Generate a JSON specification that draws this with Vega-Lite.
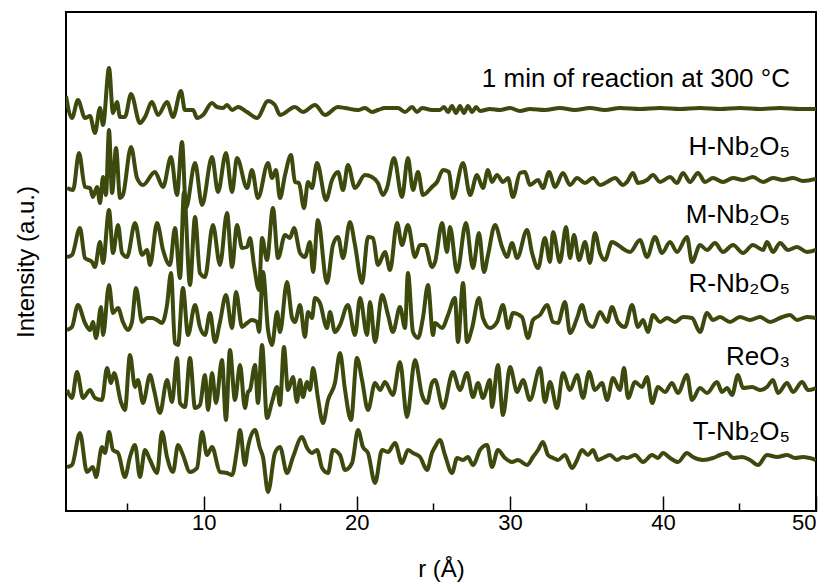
{
"$schema": "https://vega.github.io/schema/vega-lite/v6.json",
"width": 750, "height": 499,
"autosize": {"type": "none"},
"padding": {"left": 66, "top": 12, "right": 16, "bottom": 73},
"config": {"view": {"stroke": "#000", "strokeWidth": 2}, "font": "Liberation Sans"},
"datasets": {
"curves": [
{"s":"A","r":1.00,"v":415},{"s":"A","r":1.39,"v":393},{"s":"A","r":1.78,"v":411},{"s":"A","r":2.24,"v":393},{"s":"A","r":2.57,"v":395},{"s":"A","r":2.89,"v":378},{"s":"A","r":3.22,"v":403},{"s":"A","r":3.42,"v":386},{"s":"A","r":3.81,"v":443},{"s":"A","r":4.07,"v":398},{"s":"A","r":4.33,"v":409},{"s":"A","r":4.53,"v":394},{"s":"A","r":4.85,"v":394},{"s":"A","r":5.25,"v":417},{"s":"A","r":5.83,"v":388},{"s":"A","r":6.16,"v":394},{"s":"A","r":6.62,"v":409},{"s":"A","r":7.01,"v":396},{"s":"A","r":7.60,"v":409},{"s":"A","r":7.99,"v":394},{"s":"A","r":8.51,"v":420},{"s":"A","r":8.77,"v":401},{"s":"A","r":9.30,"v":401},{"s":"A","r":9.56,"v":393},{"s":"A","r":9.95,"v":396},{"s":"A","r":10.54,"v":408},{"s":"A","r":10.87,"v":404},{"s":"A","r":11.26,"v":403},{"s":"A","r":11.52,"v":406},{"s":"A","r":11.85,"v":401},{"s":"A","r":12.24,"v":404},{"s":"A","r":12.83,"v":399},{"s":"A","r":13.48,"v":393},{"s":"A","r":14.20,"v":410},{"s":"A","r":14.65,"v":406},{"s":"A","r":14.98,"v":396},{"s":"A","r":15.96,"v":404},{"s":"A","r":16.48,"v":399},{"s":"A","r":17.27,"v":406},{"s":"A","r":17.92,"v":396},{"s":"A","r":18.77,"v":404},{"s":"A","r":19.23,"v":403},{"s":"A","r":20.08,"v":401},{"s":"A","r":20.53,"v":403},{"s":"A","r":20.99,"v":399},{"s":"A","r":21.38,"v":401},{"s":"A","r":21.84,"v":403},{"s":"A","r":22.69,"v":403},{"s":"A","r":23.15,"v":399},{"s":"A","r":23.61,"v":404},{"s":"A","r":23.93,"v":399},{"s":"A","r":24.26,"v":403},{"s":"A","r":24.91,"v":401},{"s":"A","r":25.43,"v":401},{"s":"A","r":25.70,"v":404},{"s":"A","r":25.96,"v":399},{"s":"A","r":26.22,"v":405},{"s":"A","r":26.48,"v":398},{"s":"A","r":26.74,"v":405},{"s":"A","r":27.00,"v":398},{"s":"A","r":27.26,"v":405},{"s":"A","r":27.53,"v":399},{"s":"A","r":27.79,"v":404},{"s":"A","r":28.05,"v":400},{"s":"A","r":28.70,"v":402},{"s":"A","r":29.35,"v":401},{"s":"A","r":30.01,"v":403},{"s":"A","r":30.66,"v":400},{"s":"A","r":31.31,"v":402},{"s":"A","r":32.29,"v":401},{"s":"A","r":33.27,"v":403},{"s":"A","r":34.25,"v":401},{"s":"A","r":35.23,"v":403},{"s":"A","r":36.21,"v":401},{"s":"A","r":37.19,"v":403},{"s":"A","r":38.50,"v":402},{"s":"A","r":39.81,"v":403},{"s":"A","r":41.11,"v":402},{"s":"A","r":42.42,"v":403},{"s":"A","r":43.73,"v":402},{"s":"A","r":45.03,"v":403},{"s":"A","r":46.34,"v":402},{"s":"A","r":47.65,"v":403},{"s":"A","r":48.95,"v":402},{"s":"A","r":50.00,"v":402},
{"s":"B","r":1.07,"v":323},{"s":"B","r":1.46,"v":321},{"s":"B","r":1.85,"v":358},{"s":"B","r":2.24,"v":324},{"s":"B","r":2.57,"v":323},{"s":"B","r":2.76,"v":314},{"s":"B","r":3.03,"v":324},{"s":"B","r":3.22,"v":308},{"s":"B","r":3.42,"v":334},{"s":"B","r":3.61,"v":316},{"s":"B","r":3.81,"v":381},{"s":"B","r":4.01,"v":318},{"s":"B","r":4.27,"v":363},{"s":"B","r":4.53,"v":313},{"s":"B","r":4.72,"v":316},{"s":"B","r":5.25,"v":364},{"s":"B","r":5.64,"v":333},{"s":"B","r":6.03,"v":326},{"s":"B","r":6.81,"v":339},{"s":"B","r":7.34,"v":324},{"s":"B","r":7.86,"v":354},{"s":"B","r":8.25,"v":316},{"s":"B","r":8.58,"v":369},{"s":"B","r":8.84,"v":303},{"s":"B","r":9.43,"v":348},{"s":"B","r":9.89,"v":306},{"s":"B","r":10.54,"v":354},{"s":"B","r":10.93,"v":319},{"s":"B","r":11.45,"v":358},{"s":"B","r":11.85,"v":319},{"s":"B","r":12.17,"v":353},{"s":"B","r":12.83,"v":323},{"s":"B","r":13.15,"v":341},{"s":"B","r":13.54,"v":313},{"s":"B","r":14.20,"v":348},{"s":"B","r":14.46,"v":333},{"s":"B","r":14.72,"v":341},{"s":"B","r":14.98,"v":313},{"s":"B","r":15.31,"v":336},{"s":"B","r":15.70,"v":356},{"s":"B","r":15.96,"v":329},{"s":"B","r":16.22,"v":328},{"s":"B","r":16.55,"v":303},{"s":"B","r":16.81,"v":329},{"s":"B","r":17.07,"v":323},{"s":"B","r":17.40,"v":348},{"s":"B","r":17.99,"v":311},{"s":"B","r":18.38,"v":331},{"s":"B","r":18.77,"v":339},{"s":"B","r":19.10,"v":321},{"s":"B","r":19.42,"v":346},{"s":"B","r":19.88,"v":323},{"s":"B","r":20.53,"v":336},{"s":"B","r":20.99,"v":334},{"s":"B","r":21.38,"v":328},{"s":"B","r":21.71,"v":316},{"s":"B","r":21.97,"v":323},{"s":"B","r":22.43,"v":353},{"s":"B","r":22.95,"v":314},{"s":"B","r":23.34,"v":353},{"s":"B","r":23.67,"v":321},{"s":"B","r":24.00,"v":339},{"s":"B","r":24.32,"v":316},{"s":"B","r":24.91,"v":324},{"s":"B","r":25.24,"v":329},{"s":"B","r":25.63,"v":341},{"s":"B","r":26.02,"v":339},{"s":"B","r":26.28,"v":313},{"s":"B","r":26.94,"v":348},{"s":"B","r":27.40,"v":316},{"s":"B","r":27.85,"v":336},{"s":"B","r":28.24,"v":323},{"s":"B","r":28.57,"v":341},{"s":"B","r":28.83,"v":329},{"s":"B","r":29.16,"v":336},{"s":"B","r":29.55,"v":329},{"s":"B","r":29.88,"v":333},{"s":"B","r":30.20,"v":314},{"s":"B","r":30.66,"v":338},{"s":"B","r":30.99,"v":339},{"s":"B","r":31.31,"v":326},{"s":"B","r":31.84,"v":331},{"s":"B","r":32.16,"v":323},{"s":"B","r":32.56,"v":339},{"s":"B","r":32.95,"v":324},{"s":"B","r":33.47,"v":338},{"s":"B","r":33.93,"v":326},{"s":"B","r":34.39,"v":333},{"s":"B","r":34.91,"v":328},{"s":"B","r":35.43,"v":333},{"s":"B","r":35.89,"v":326},{"s":"B","r":36.35,"v":329},{"s":"B","r":36.87,"v":333},{"s":"B","r":37.39,"v":326},{"s":"B","r":37.65,"v":329},{"s":"B","r":38.04,"v":338},{"s":"B","r":38.37,"v":328},{"s":"B","r":38.96,"v":331},{"s":"B","r":39.35,"v":336},{"s":"B","r":39.81,"v":329},{"s":"B","r":40.46,"v":334},{"s":"B","r":40.92,"v":328},{"s":"B","r":41.31,"v":338},{"s":"B","r":41.77,"v":329},{"s":"B","r":42.29,"v":338},{"s":"B","r":42.75,"v":329},{"s":"B","r":43.27,"v":333},{"s":"B","r":43.92,"v":329},{"s":"B","r":44.58,"v":333},{"s":"B","r":45.23,"v":331},{"s":"B","r":45.88,"v":334},{"s":"B","r":46.54,"v":329},{"s":"B","r":47.19,"v":333},{"s":"B","r":47.84,"v":331},{"s":"B","r":48.50,"v":333},{"s":"B","r":49.15,"v":330},{"s":"B","r":50.00,"v":332},
{"s":"C","r":1.07,"v":254},{"s":"C","r":1.39,"v":256},{"s":"C","r":1.91,"v":283},{"s":"C","r":2.24,"v":253},{"s":"C","r":2.70,"v":249},{"s":"C","r":2.89,"v":244},{"s":"C","r":3.22,"v":269},{"s":"C","r":3.42,"v":248},{"s":"C","r":3.81,"v":301},{"s":"C","r":4.07,"v":258},{"s":"C","r":4.40,"v":286},{"s":"C","r":4.66,"v":258},{"s":"C","r":4.99,"v":254},{"s":"C","r":5.51,"v":288},{"s":"C","r":5.97,"v":256},{"s":"C","r":6.29,"v":261},{"s":"C","r":6.49,"v":246},{"s":"C","r":6.95,"v":288},{"s":"C","r":7.34,"v":261},{"s":"C","r":7.79,"v":246},{"s":"C","r":8.12,"v":283},{"s":"C","r":8.45,"v":233},{"s":"C","r":8.71,"v":319},{"s":"C","r":9.10,"v":226},{"s":"C","r":9.43,"v":294},{"s":"C","r":9.75,"v":238},{"s":"C","r":10.08,"v":234},{"s":"C","r":10.60,"v":286},{"s":"C","r":11.06,"v":246},{"s":"C","r":11.52,"v":298},{"s":"C","r":11.85,"v":244},{"s":"C","r":12.17,"v":286},{"s":"C","r":12.50,"v":263},{"s":"C","r":12.83,"v":264},{"s":"C","r":13.02,"v":273},{"s":"C","r":13.28,"v":246},{"s":"C","r":13.61,"v":221},{"s":"C","r":13.81,"v":273},{"s":"C","r":14.13,"v":251},{"s":"C","r":14.52,"v":303},{"s":"C","r":14.85,"v":253},{"s":"C","r":15.31,"v":276},{"s":"C","r":15.63,"v":273},{"s":"C","r":15.90,"v":283},{"s":"C","r":16.29,"v":258},{"s":"C","r":16.61,"v":254},{"s":"C","r":16.94,"v":269},{"s":"C","r":17.14,"v":239},{"s":"C","r":17.46,"v":291},{"s":"C","r":18.05,"v":228},{"s":"C","r":18.44,"v":266},{"s":"C","r":18.77,"v":274},{"s":"C","r":19.10,"v":253},{"s":"C","r":19.55,"v":289},{"s":"C","r":19.88,"v":266},{"s":"C","r":20.34,"v":228},{"s":"C","r":20.73,"v":274},{"s":"C","r":21.06,"v":273},{"s":"C","r":21.38,"v":246},{"s":"C","r":21.84,"v":259},{"s":"C","r":22.17,"v":241},{"s":"C","r":22.63,"v":288},{"s":"C","r":22.95,"v":266},{"s":"C","r":23.34,"v":286},{"s":"C","r":23.80,"v":254},{"s":"C","r":24.13,"v":266},{"s":"C","r":24.45,"v":266},{"s":"C","r":24.91,"v":244},{"s":"C","r":25.11,"v":249},{"s":"C","r":25.57,"v":288},{"s":"C","r":25.89,"v":259},{"s":"C","r":26.09,"v":284},{"s":"C","r":26.55,"v":239},{"s":"C","r":27.13,"v":288},{"s":"C","r":27.59,"v":243},{"s":"C","r":27.98,"v":278},{"s":"C","r":28.31,"v":239},{"s":"C","r":28.57,"v":256},{"s":"C","r":29.03,"v":286},{"s":"C","r":29.49,"v":264},{"s":"C","r":29.81,"v":254},{"s":"C","r":30.14,"v":268},{"s":"C","r":30.47,"v":253},{"s":"C","r":31.12,"v":281},{"s":"C","r":31.45,"v":258},{"s":"C","r":31.84,"v":243},{"s":"C","r":32.29,"v":273},{"s":"C","r":32.62,"v":249},{"s":"C","r":32.82,"v":279},{"s":"C","r":33.27,"v":249},{"s":"C","r":33.67,"v":284},{"s":"C","r":33.93,"v":253},{"s":"C","r":34.19,"v":276},{"s":"C","r":34.52,"v":251},{"s":"C","r":34.91,"v":269},{"s":"C","r":35.23,"v":248},{"s":"C","r":35.56,"v":278},{"s":"C","r":35.89,"v":258},{"s":"C","r":36.21,"v":251},{"s":"C","r":36.67,"v":269},{"s":"C","r":37.06,"v":266},{"s":"C","r":37.52,"v":261},{"s":"C","r":37.85,"v":259},{"s":"C","r":38.50,"v":271},{"s":"C","r":38.96,"v":254},{"s":"C","r":39.48,"v":274},{"s":"C","r":39.94,"v":258},{"s":"C","r":40.46,"v":269},{"s":"C","r":40.92,"v":259},{"s":"C","r":41.57,"v":274},{"s":"C","r":41.90,"v":249},{"s":"C","r":42.42,"v":266},{"s":"C","r":42.88,"v":261},{"s":"C","r":43.40,"v":268},{"s":"C","r":43.92,"v":259},{"s":"C","r":44.58,"v":266},{"s":"C","r":45.23,"v":258},{"s":"C","r":45.88,"v":266},{"s":"C","r":46.54,"v":261},{"s":"C","r":46.80,"v":269},{"s":"C","r":47.19,"v":259},{"s":"C","r":47.65,"v":268},{"s":"C","r":48.17,"v":261},{"s":"C","r":48.76,"v":264},{"s":"C","r":49.41,"v":259},{"s":"C","r":50.00,"v":261},
{"s":"D","r":1.07,"v":181},{"s":"D","r":1.39,"v":184},{"s":"D","r":1.78,"v":206},{"s":"D","r":2.24,"v":188},{"s":"D","r":2.57,"v":181},{"s":"D","r":2.76,"v":189},{"s":"D","r":2.96,"v":173},{"s":"D","r":3.29,"v":204},{"s":"D","r":3.42,"v":176},{"s":"D","r":3.81,"v":226},{"s":"D","r":4.07,"v":198},{"s":"D","r":4.40,"v":203},{"s":"D","r":4.72,"v":189},{"s":"D","r":5.05,"v":181},{"s":"D","r":5.31,"v":189},{"s":"D","r":5.57,"v":223},{"s":"D","r":5.97,"v":189},{"s":"D","r":6.29,"v":193},{"s":"D","r":6.62,"v":193},{"s":"D","r":6.95,"v":191},{"s":"D","r":7.27,"v":188},{"s":"D","r":7.60,"v":206},{"s":"D","r":7.86,"v":238},{"s":"D","r":8.12,"v":168},{"s":"D","r":8.32,"v":166},{"s":"D","r":8.64,"v":223},{"s":"D","r":8.97,"v":176},{"s":"D","r":9.43,"v":206},{"s":"D","r":9.75,"v":184},{"s":"D","r":10.08,"v":176},{"s":"D","r":10.41,"v":198},{"s":"D","r":10.73,"v":169},{"s":"D","r":11.06,"v":189},{"s":"D","r":11.45,"v":216},{"s":"D","r":11.85,"v":183},{"s":"D","r":12.11,"v":219},{"s":"D","r":12.50,"v":184},{"s":"D","r":12.83,"v":188},{"s":"D","r":13.15,"v":191},{"s":"D","r":13.48,"v":189},{"s":"D","r":13.61,"v":179},{"s":"D","r":13.87,"v":239},{"s":"D","r":14.20,"v":181},{"s":"D","r":14.46,"v":166},{"s":"D","r":14.79,"v":199},{"s":"D","r":14.98,"v":179},{"s":"D","r":15.44,"v":229},{"s":"D","r":15.77,"v":193},{"s":"D","r":15.96,"v":189},{"s":"D","r":16.29,"v":206},{"s":"D","r":16.61,"v":174},{"s":"D","r":16.81,"v":199},{"s":"D","r":17.07,"v":193},{"s":"D","r":17.27,"v":213},{"s":"D","r":17.59,"v":208},{"s":"D","r":18.05,"v":183},{"s":"D","r":18.25,"v":199},{"s":"D","r":18.57,"v":179},{"s":"D","r":18.90,"v":186},{"s":"D","r":19.42,"v":206},{"s":"D","r":19.88,"v":176},{"s":"D","r":20.21,"v":213},{"s":"D","r":20.67,"v":176},{"s":"D","r":20.86,"v":209},{"s":"D","r":21.19,"v":169},{"s":"D","r":21.65,"v":216},{"s":"D","r":22.04,"v":196},{"s":"D","r":22.36,"v":179},{"s":"D","r":22.82,"v":204},{"s":"D","r":23.15,"v":183},{"s":"D","r":23.34,"v":238},{"s":"D","r":23.67,"v":179},{"s":"D","r":24.00,"v":173},{"s":"D","r":24.32,"v":193},{"s":"D","r":24.65,"v":226},{"s":"D","r":24.98,"v":176},{"s":"D","r":25.11,"v":188},{"s":"D","r":25.57,"v":183},{"s":"D","r":25.96,"v":196},{"s":"D","r":26.41,"v":213},{"s":"D","r":26.61,"v":169},{"s":"D","r":26.94,"v":228},{"s":"D","r":27.20,"v":169},{"s":"D","r":27.53,"v":183},{"s":"D","r":27.98,"v":213},{"s":"D","r":28.24,"v":193},{"s":"D","r":28.70,"v":183},{"s":"D","r":29.16,"v":189},{"s":"D","r":29.55,"v":206},{"s":"D","r":29.88,"v":183},{"s":"D","r":30.20,"v":198},{"s":"D","r":30.79,"v":194},{"s":"D","r":31.18,"v":173},{"s":"D","r":31.51,"v":191},{"s":"D","r":31.97,"v":196},{"s":"D","r":32.43,"v":206},{"s":"D","r":32.82,"v":189},{"s":"D","r":33.14,"v":188},{"s":"D","r":33.60,"v":209},{"s":"D","r":33.93,"v":178},{"s":"D","r":34.39,"v":193},{"s":"D","r":34.71,"v":206},{"s":"D","r":35.04,"v":189},{"s":"D","r":35.43,"v":184},{"s":"D","r":35.89,"v":199},{"s":"D","r":36.35,"v":189},{"s":"D","r":36.67,"v":204},{"s":"D","r":37.06,"v":189},{"s":"D","r":37.52,"v":184},{"s":"D","r":37.98,"v":206},{"s":"D","r":38.37,"v":184},{"s":"D","r":38.70,"v":191},{"s":"D","r":39.02,"v":179},{"s":"D","r":39.35,"v":196},{"s":"D","r":39.81,"v":189},{"s":"D","r":40.27,"v":193},{"s":"D","r":40.79,"v":189},{"s":"D","r":41.31,"v":194},{"s":"D","r":41.90,"v":193},{"s":"D","r":42.42,"v":179},{"s":"D","r":42.88,"v":198},{"s":"D","r":43.27,"v":191},{"s":"D","r":43.73,"v":194},{"s":"D","r":44.38,"v":189},{"s":"D","r":45.03,"v":194},{"s":"D","r":45.69,"v":191},{"s":"D","r":46.34,"v":194},{"s":"D","r":47.00,"v":189},{"s":"D","r":47.65,"v":193},{"s":"D","r":48.30,"v":196},{"s":"D","r":48.76,"v":191},{"s":"D","r":49.41,"v":194},{"s":"D","r":50.00,"v":193},
{"s":"E","r":1.07,"v":121},{"s":"E","r":1.39,"v":113},{"s":"E","r":1.72,"v":139},{"s":"E","r":2.11,"v":113},{"s":"E","r":2.57,"v":121},{"s":"E","r":2.89,"v":113},{"s":"E","r":3.35,"v":111},{"s":"E","r":3.68,"v":143},{"s":"E","r":3.94,"v":128},{"s":"E","r":4.14,"v":138},{"s":"E","r":4.59,"v":109},{"s":"E","r":4.85,"v":101},{"s":"E","r":5.18,"v":156},{"s":"E","r":5.51,"v":124},{"s":"E","r":5.70,"v":131},{"s":"E","r":6.03,"v":108},{"s":"E","r":6.49,"v":136},{"s":"E","r":6.75,"v":121},{"s":"E","r":7.14,"v":98},{"s":"E","r":7.60,"v":131},{"s":"E","r":7.93,"v":109},{"s":"E","r":8.25,"v":153},{"s":"E","r":8.45,"v":108},{"s":"E","r":8.77,"v":104},{"s":"E","r":9.10,"v":153},{"s":"E","r":9.43,"v":103},{"s":"E","r":9.75,"v":106},{"s":"E","r":10.08,"v":136},{"s":"E","r":10.28,"v":101},{"s":"E","r":10.54,"v":138},{"s":"E","r":10.80,"v":108},{"s":"E","r":11.19,"v":151},{"s":"E","r":11.45,"v":91},{"s":"E","r":11.71,"v":161},{"s":"E","r":12.04,"v":111},{"s":"E","r":12.37,"v":146},{"s":"E","r":12.69,"v":103},{"s":"E","r":12.89,"v":119},{"s":"E","r":13.02,"v":121},{"s":"E","r":13.35,"v":146},{"s":"E","r":13.54,"v":108},{"s":"E","r":13.81,"v":166},{"s":"E","r":14.13,"v":93},{"s":"E","r":14.46,"v":109},{"s":"E","r":14.79,"v":124},{"s":"E","r":14.98,"v":106},{"s":"E","r":15.24,"v":164},{"s":"E","r":15.50,"v":121},{"s":"E","r":15.83,"v":134},{"s":"E","r":16.09,"v":109},{"s":"E","r":16.29,"v":131},{"s":"E","r":16.48,"v":114},{"s":"E","r":16.75,"v":129},{"s":"E","r":16.94,"v":121},{"s":"E","r":17.14,"v":143},{"s":"E","r":17.46,"v":113},{"s":"E","r":17.79,"v":88},{"s":"E","r":18.12,"v":111},{"s":"E","r":18.57,"v":128},{"s":"E","r":18.90,"v":158},{"s":"E","r":19.23,"v":121},{"s":"E","r":19.62,"v":91},{"s":"E","r":20.01,"v":153},{"s":"E","r":20.34,"v":131},{"s":"E","r":20.73,"v":101},{"s":"E","r":21.19,"v":128},{"s":"E","r":21.52,"v":121},{"s":"E","r":21.84,"v":129},{"s":"E","r":22.36,"v":116},{"s":"E","r":22.82,"v":149},{"s":"E","r":23.28,"v":94},{"s":"E","r":23.80,"v":151},{"s":"E","r":24.26,"v":116},{"s":"E","r":24.59,"v":108},{"s":"E","r":24.91,"v":128},{"s":"E","r":25.11,"v":131},{"s":"E","r":25.63,"v":103},{"s":"E","r":26.28,"v":139},{"s":"E","r":26.74,"v":121},{"s":"E","r":27.20,"v":138},{"s":"E","r":27.59,"v":114},{"s":"E","r":27.92,"v":128},{"s":"E","r":28.24,"v":113},{"s":"E","r":28.70,"v":131},{"s":"E","r":28.83,"v":104},{"s":"E","r":29.22,"v":146},{"s":"E","r":29.55,"v":96},{"s":"E","r":30.01,"v":144},{"s":"E","r":30.47,"v":119},{"s":"E","r":30.86,"v":131},{"s":"E","r":31.31,"v":111},{"s":"E","r":31.97,"v":143},{"s":"E","r":32.29,"v":109},{"s":"E","r":32.62,"v":129},{"s":"E","r":33.08,"v":103},{"s":"E","r":33.47,"v":138},{"s":"E","r":33.93,"v":121},{"s":"E","r":34.39,"v":136},{"s":"E","r":34.78,"v":113},{"s":"E","r":35.17,"v":139},{"s":"E","r":35.56,"v":121},{"s":"E","r":36.02,"v":128},{"s":"E","r":36.35,"v":111},{"s":"E","r":36.74,"v":133},{"s":"E","r":37.19,"v":121},{"s":"E","r":37.46,"v":143},{"s":"E","r":37.72,"v":113},{"s":"E","r":38.18,"v":129},{"s":"E","r":38.63,"v":124},{"s":"E","r":38.96,"v":134},{"s":"E","r":39.29,"v":108},{"s":"E","r":39.68,"v":124},{"s":"E","r":40.14,"v":119},{"s":"E","r":40.59,"v":128},{"s":"E","r":40.98,"v":118},{"s":"E","r":41.57,"v":136},{"s":"E","r":41.90,"v":111},{"s":"E","r":42.42,"v":123},{"s":"E","r":42.88,"v":118},{"s":"E","r":43.53,"v":129},{"s":"E","r":43.86,"v":119},{"s":"E","r":44.19,"v":123},{"s":"E","r":44.51,"v":116},{"s":"E","r":44.90,"v":136},{"s":"E","r":45.23,"v":123},{"s":"E","r":45.82,"v":124},{"s":"E","r":46.34,"v":121},{"s":"E","r":46.80,"v":124},{"s":"E","r":47.19,"v":131},{"s":"E","r":47.52,"v":118},{"s":"E","r":48.11,"v":128},{"s":"E","r":48.50,"v":119},{"s":"E","r":49.09,"v":129},{"s":"E","r":49.48,"v":121},{"s":"E","r":50.00,"v":123},
{"s":"F","r":1.07,"v":44},{"s":"F","r":1.39,"v":46},{"s":"F","r":1.91,"v":78},{"s":"F","r":2.37,"v":39},{"s":"F","r":2.76,"v":44},{"s":"F","r":2.96,"v":34},{"s":"F","r":3.35,"v":64},{"s":"F","r":3.55,"v":58},{"s":"F","r":3.81,"v":79},{"s":"F","r":4.07,"v":61},{"s":"F","r":4.40,"v":58},{"s":"F","r":4.85,"v":34},{"s":"F","r":5.18,"v":54},{"s":"F","r":5.51,"v":66},{"s":"F","r":5.83,"v":34},{"s":"F","r":6.16,"v":61},{"s":"F","r":6.49,"v":51},{"s":"F","r":6.95,"v":38},{"s":"F","r":7.27,"v":79},{"s":"F","r":7.60,"v":54},{"s":"F","r":7.99,"v":39},{"s":"F","r":8.32,"v":66},{"s":"F","r":8.64,"v":56},{"s":"F","r":9.10,"v":39},{"s":"F","r":9.56,"v":43},{"s":"F","r":9.89,"v":79},{"s":"F","r":10.21,"v":56},{"s":"F","r":10.54,"v":64},{"s":"F","r":11.06,"v":39},{"s":"F","r":11.52,"v":38},{"s":"F","r":11.85,"v":36},{"s":"F","r":12.17,"v":61},{"s":"F","r":12.37,"v":81},{"s":"F","r":12.69,"v":46},{"s":"F","r":12.89,"v":64},{"s":"F","r":13.35,"v":81},{"s":"F","r":13.67,"v":63},{"s":"F","r":13.87,"v":54},{"s":"F","r":14.20,"v":19},{"s":"F","r":14.65,"v":58},{"s":"F","r":14.98,"v":64},{"s":"F","r":15.44,"v":38},{"s":"F","r":15.83,"v":54},{"s":"F","r":16.42,"v":74},{"s":"F","r":16.75,"v":63},{"s":"F","r":17.07,"v":58},{"s":"F","r":17.40,"v":61},{"s":"F","r":17.73,"v":43},{"s":"F","r":18.12,"v":38},{"s":"F","r":18.44,"v":61},{"s":"F","r":18.90,"v":56},{"s":"F","r":19.23,"v":41},{"s":"F","r":19.69,"v":48},{"s":"F","r":20.08,"v":81},{"s":"F","r":20.40,"v":64},{"s":"F","r":20.73,"v":58},{"s":"F","r":21.19,"v":28},{"s":"F","r":21.65,"v":61},{"s":"F","r":22.04,"v":59},{"s":"F","r":22.50,"v":68},{"s":"F","r":22.95,"v":48},{"s":"F","r":23.34,"v":61},{"s":"F","r":23.67,"v":58},{"s":"F","r":24.13,"v":54},{"s":"F","r":24.59,"v":41},{"s":"F","r":24.91,"v":58},{"s":"F","r":25.11,"v":64},{"s":"F","r":25.43,"v":71},{"s":"F","r":25.76,"v":56},{"s":"F","r":26.22,"v":38},{"s":"F","r":26.55,"v":53},{"s":"F","r":26.94,"v":51},{"s":"F","r":27.26,"v":54},{"s":"F","r":27.59,"v":46},{"s":"F","r":28.05,"v":61},{"s":"F","r":28.51,"v":66},{"s":"F","r":28.83,"v":44},{"s":"F","r":29.22,"v":61},{"s":"F","r":29.68,"v":53},{"s":"F","r":30.14,"v":49},{"s":"F","r":30.53,"v":51},{"s":"F","r":31.12,"v":46},{"s":"F","r":31.51,"v":54},{"s":"F","r":31.84,"v":61},{"s":"F","r":32.16,"v":69},{"s":"F","r":32.49,"v":56},{"s":"F","r":32.82,"v":53},{"s":"F","r":33.14,"v":51},{"s":"F","r":33.60,"v":56},{"s":"F","r":34.06,"v":43},{"s":"F","r":34.39,"v":51},{"s":"F","r":34.71,"v":61},{"s":"F","r":35.10,"v":56},{"s":"F","r":35.43,"v":61},{"s":"F","r":35.76,"v":51},{"s":"F","r":36.08,"v":53},{"s":"F","r":36.54,"v":56},{"s":"F","r":37.00,"v":51},{"s":"F","r":37.39,"v":54},{"s":"F","r":37.65,"v":53},{"s":"F","r":38.18,"v":56},{"s":"F","r":38.70,"v":49},{"s":"F","r":39.29,"v":56},{"s":"F","r":39.68,"v":53},{"s":"F","r":40.00,"v":58},{"s":"F","r":40.46,"v":53},{"s":"F","r":40.98,"v":49},{"s":"F","r":41.57,"v":58},{"s":"F","r":41.96,"v":54},{"s":"F","r":42.62,"v":51},{"s":"F","r":43.27,"v":53},{"s":"F","r":43.73,"v":56},{"s":"F","r":44.19,"v":58},{"s":"F","r":44.58,"v":53},{"s":"F","r":45.17,"v":54},{"s":"F","r":45.69,"v":51},{"s":"F","r":46.21,"v":46},{"s":"F","r":46.80,"v":56},{"s":"F","r":47.45,"v":54},{"s":"F","r":48.11,"v":56},{"s":"F","r":48.63,"v":53},{"s":"F","r":49.15,"v":54},{"s":"F","r":50.00,"v":51}
],
"labels": [
{"label":"1 min of reaction at 300 °C","r":48.3,"v":424},
{"label":"H-Nb₂O₅","r":48.3,"v":356},
{"label":"M-Nb₂O₅","r":48.3,"v":288},
{"label":"R-Nb₂O₅","r":48.3,"v":219},
{"label":"ReO₃","r":48.3,"v":146},
{"label":"T-Nb₂O₅","r":48.3,"v":71}
]
},
"layer": [
{
"data": {"name": "curves"},
"mark": {"type": "line", "interpolate": "monotone", "color": "#3c4a0e", "strokeWidth": 4, "strokeJoin": "round", "clip": true},
"encoding": {
"x": {"field": "r", "type": "quantitative", "scale": {"domain": [1, 50], "nice": false, "zero": false},
"axis": {"title": "r (Å)", "values": [5,10,15,20,25,30,35,40,45,50], "labelExpr": "datum.value % 10 === 0 ? datum.label : ''", "grid": false, "domain": false, "tickColor": "#000", "tickWidth": 1.5, "tickSize": {"condition": {"test": "datum.value % 10 === 0", "value": -15}, "value": -8}, "labelFontSize": 22, "labelColor": "#000", "labelPadding": 16, "titleFontSize": 24, "titleFontWeight": "normal", "titleColor": "#000", "titlePadding": 24}},
"y": {"field": "v", "type": "quantitative", "scale": {"domain": [0, 499], "nice": false, "zero": false},
"axis": {"title": "Intensity (a.u.)", "labels": false, "ticks": false, "domain": false, "grid": false, "titleFontSize": 24, "titleFontWeight": "normal", "titleColor": "#000", "titlePadding": 28}},
"detail": {"field": "s", "type": "nominal"}
}
},
{
"data": {"name": "labels"},
"mark": {"type": "text", "align": "right", "baseline": "alphabetic", "fontSize": 26, "color": "#000"},
"encoding": {
"x": {"field": "r", "type": "quantitative"},
"y": {"field": "v", "type": "quantitative"},
"text": {"field": "label"}
}
}
]
}
